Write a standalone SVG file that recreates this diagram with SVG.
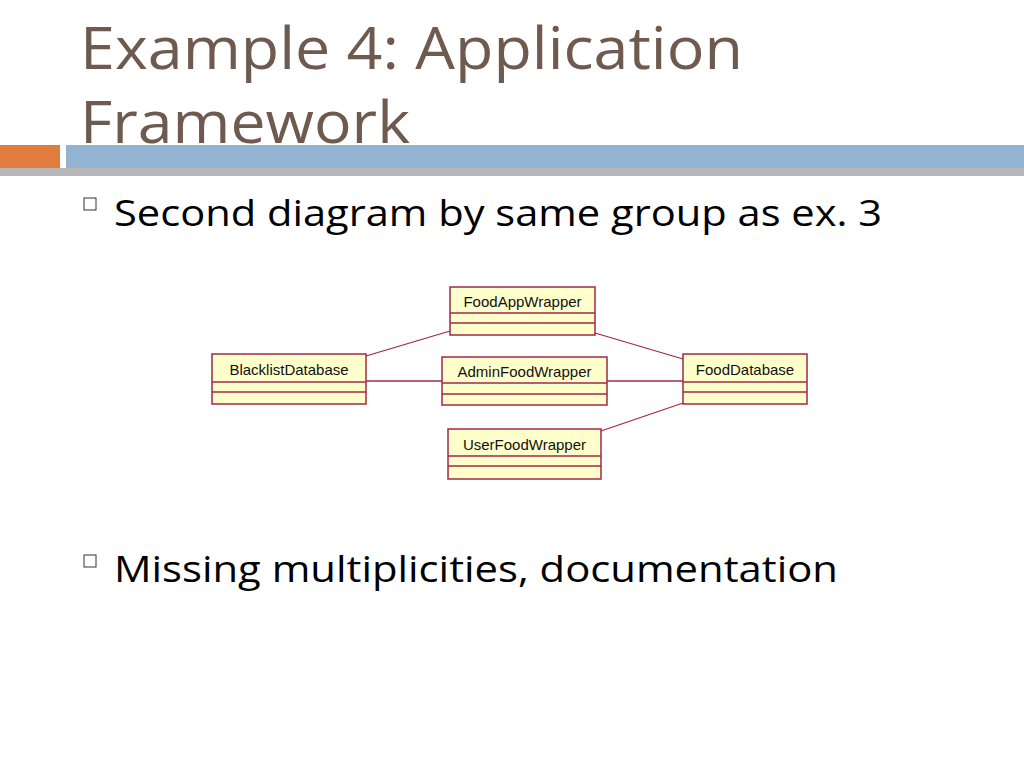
<svg xmlns="http://www.w3.org/2000/svg" width="1024" height="768" viewBox="0 0 1024 768">
<defs><style>
.box{fill:#ffffcc;stroke:#a0284a;stroke-width:1.5}
.sep{stroke:#a0284a;stroke-width:1.5}
.lbl{font-family:"Liberation Sans",Arial,sans-serif;font-size:15px;fill:#111}
.conn line{stroke:#a0284a;stroke-width:1.3}
.body{font-family:"Open Sans","DejaVu Sans",sans-serif;font-size:37px;fill:#000}
</style></defs>
<rect width="1024" height="768" fill="#fff"/>
<text x="80" y="69" font-family="Open Sans, DejaVu Sans, sans-serif" font-size="58" fill="#6e5a4e" textLength="663" lengthAdjust="spacingAndGlyphs">Example 4: Application</text>
<text x="80" y="143" font-family="Open Sans, DejaVu Sans, sans-serif" font-size="58" fill="#6e5a4e" textLength="330" lengthAdjust="spacingAndGlyphs">Framework</text>
<rect x="0" y="168" width="1024" height="8" fill="#b8b8b8"/>
<rect x="0" y="145" width="60" height="23" fill="#e07c3e"/>
<rect x="66" y="145" width="958" height="23" fill="#92b4d2"/>
<rect x="84" y="198" width="12" height="12" fill="none" stroke="#333" stroke-width="1"/>
<text class="body" x="114" y="226" textLength="768" lengthAdjust="spacingAndGlyphs">Second diagram by same group as ex. 3</text>
<rect x="84" y="555" width="12" height="12" fill="none" stroke="#333" stroke-width="1"/>
<text class="body" x="114" y="582" textLength="724" lengthAdjust="spacingAndGlyphs">Missing multiplicities, documentation</text>
<g class="conn">
<line x1="366" y1="356" x2="450" y2="331"/>
<line x1="595" y1="333" x2="683" y2="359"/>
<line x1="366" y1="381" x2="442" y2="381"/>
<line x1="607" y1="381" x2="683" y2="381"/>
<line x1="601" y1="431" x2="683" y2="403"/>
</g>
<g id="FoodAppWrapper"><rect class="box" x="450" y="287" width="145" height="48"/><line class="sep" x1="450" y1="313" x2="595" y2="313"/><line class="sep" x1="450" y1="323" x2="595" y2="323"/><text class="lbl" x="522.5" y="307" text-anchor="middle">FoodAppWrapper</text></g>
<g id="BlacklistDatabase"><rect class="box" x="212" y="354" width="154" height="50"/><line class="sep" x1="212" y1="382" x2="366" y2="382"/><line class="sep" x1="212" y1="392" x2="366" y2="392"/><text class="lbl" x="289" y="375" text-anchor="middle">BlacklistDatabase</text></g>
<g id="AdminFoodWrapper"><rect class="box" x="442" y="357" width="165" height="48"/><line class="sep" x1="442" y1="383" x2="607" y2="383"/><line class="sep" x1="442" y1="394" x2="607" y2="394"/><text class="lbl" x="524.5" y="377" text-anchor="middle">AdminFoodWrapper</text></g>
<g id="FoodDatabase"><rect class="box" x="683" y="354" width="124" height="50"/><line class="sep" x1="683" y1="382" x2="807" y2="382"/><line class="sep" x1="683" y1="392" x2="807" y2="392"/><text class="lbl" x="745" y="375" text-anchor="middle">FoodDatabase</text></g>
<g id="UserFoodWrapper"><rect class="box" x="448" y="429" width="153" height="50"/><line class="sep" x1="448" y1="456" x2="601" y2="456"/><line class="sep" x1="448" y1="466" x2="601" y2="466"/><text class="lbl" x="524.5" y="450" text-anchor="middle">UserFoodWrapper</text></g>
</svg>
